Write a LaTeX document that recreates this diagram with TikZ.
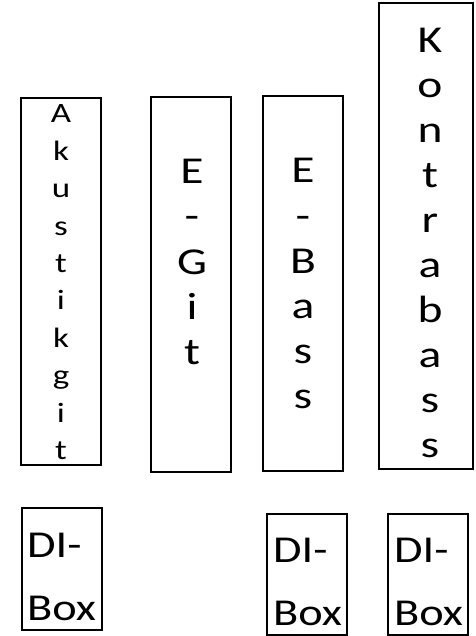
\documentclass[tikz,border=0pt]{standalone}
\usepackage{graphicx}
\usepackage{fontspec}
\setmainfont{Carlito}
\newcommand\stackletters[1]{\scalebox{1.25}[1]{\vtop{\halign{\hfil##\hfil\cr#1\crcr}}}}
\newcommand\diletters[1]{\scalebox{1.22}[1]{\vtop{\halign{##\hfil\cr#1\crcr}}}}
\tikzset{
  instbox/.style={draw, line width=2.2pt, inner sep=0pt},
  vword/.style={anchor=base, inner sep=0pt, font=\fontsize{38}{45}\selectfont},
  diword/.style={anchor=base west, inner sep=0pt, font=\fontsize{38}{63}\selectfont},
}
\begin{document}
\begin{tikzpicture}[x=1pt,y=-1pt]
\useasboundingbox (0,0) rectangle (475,636);
% instrument boxes
\node[instbox, minimum width=80pt, minimum height=367pt] (akb) at (61,281.5) {};
\node[instbox, minimum width=80pt, minimum height=375pt] (egb) at (191,284.5) {};
\node[instbox, minimum width=80pt, minimum height=375pt] (ebb) at (303,283.5) {};
\node[instbox, minimum width=94pt, minimum height=466pt] (kbb) at (426,236) {};
% DI boxes
\node[instbox, minimum width=80pt, minimum height=122pt] (di1) at (62,569) {};
\node[instbox, minimum width=80pt, minimum height=121pt] (di2) at (307,574.5) {};
\node[instbox, minimum width=80pt, minimum height=121pt] (di3) at (428,574.5) {};
% texts
\node[vword, font=\fontsize{28}{37.4}\selectfont] (akt) at (61,123) {\stackletters{A\cr k\cr u\cr s\cr t\cr i\cr k\cr g\cr i\cr t}};
\node[vword] (egt) at (192,184) {\stackletters{E\cr -\cr G\cr i\cr t}};
\node[vword] (ebt) at (303,183) {\stackletters{E\cr -\cr B\cr a\cr s\cr s}};
\node[vword] (kbt) at (430,53) {\stackletters{K\cr o\cr n\cr t\cr r\cr a\cr b\cr a\cr s\cr s}};
\node[diword] (di1t) at (27,557) {\diletters{DI-\cr Box}};
\node[diword] (di2t) at (273,562) {\diletters{DI-\cr Box}};
\node[diword] (di3t) at (394,562) {\diletters{DI-\cr Box}};
\end{tikzpicture}
\end{document}
